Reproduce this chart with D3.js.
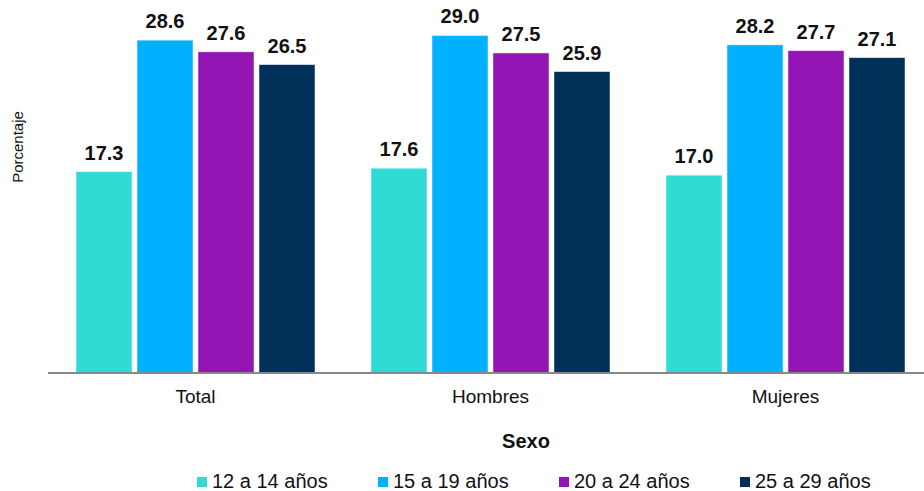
<!DOCTYPE html>
<html>
<head>
<meta charset="utf-8">
<script src="https://cdn.jsdelivr.net/npm/d3@7"></script>
<style>
  body { margin: 0; background: #fff; }
  text { font-family: "Liberation Sans", Arial, sans-serif; fill: #111; }
</style>
</head>
<body>
<script>
// Grouped bars: percentage by sex and age group
let categories = ["Total", "Hombres", "Mujeres"];
let series = ["12 a 14 años", "15 a 19 años", "20 a 24 años", "25 a 29 años"];
let values12a14 = [17.3, 17.6, 17.0];
let values15a19 = [28.6, 29.0, 28.2];
let values20a24 = [27.6, 27.5, 27.7];
let values25a29 = [26.5, 25.9, 27.1];

let colors = d3.scaleOrdinal()
  .domain(series)
  .range(["#2fdbd3", "#00b1ff", "#9316b4", "#003058"]);

let width = 924, height = 491;
let baseY = 373;

let data = categories.map(function(c, i) {
  return {
    cat: c,
    vals: [values12a14[i], values15a19[i], values20a24[i], values25a29[i]]
  };
});

let svg = d3.select("body").append("svg")
  .attr("width", width)
  .attr("height", height);

// scales
let x0 = d3.scaleBand()
  .domain(categories)
  .range([48, 933])
  .padding(0);

let x1 = d3.scaleBand()
  .domain(series)
  .range([28, 267])
  .paddingInner(0.082)
  .paddingOuter(0);

let y = d3.scaleLinear()
  .domain([0, 32.05])
  .range([baseY, 0]);

// bars
let groups = svg.selectAll(".group")
  .data(data)
  .enter().append("g")
  .attr("class", "group")
  .attr("transform", function(d) { return "translate(" + x0(d.cat) + ",0)"; });

let cells = groups.selectAll(".bar")
  .data(function(d) {
    return d.vals.map(function(v, i) { return { key: series[i], value: v }; });
  })
  .enter();

cells.append("rect")
  .attr("class", "bar")
  .attr("x", function(d) { return x1(d.key); })
  .attr("y", function(d) { return y(d.value); })
  .attr("width", x1.bandwidth())
  .attr("height", function(d) { return baseY - y(d.value); })
  .style("fill", function(d) { return colors(d.key); })
  .style("stroke", "rgba(255,255,255,0.6)")
  .style("stroke-width", 0.8);

cells.append("text")
  .attr("x", function(d) { return x1(d.key) + x1.bandwidth() / 2; })
  .attr("y", function(d) { return y(d.value) - 12; })
  .attr("text-anchor", "middle")
  .style("font-size", "20px")
  .style("font-weight", "bold")
  .text(function(d) { return d.value.toFixed(1); });

// x axis
let xAxis = svg.append("g")
  .attr("transform", "translate(0," + baseY + ")")
  .call(d3.axisBottom(x0).tickSize(0).tickPadding(17));

xAxis.select(".domain")
  .attr("d", "M48,0H924")
  .attr("stroke", "#888")
  .attr("stroke-width", 2);

xAxis.selectAll("text")
  .style("font-size", "19px")
  .style("font-family", "'Liberation Sans', Arial, sans-serif")
  .attr("fill", "#111");

// axis titles
svg.append("text")
  .attr("transform", "translate(23,147) rotate(-90)")
  .attr("text-anchor", "middle")
  .style("font-size", "15px")
  .text("Porcentaje");

svg.append("text")
  .attr("x", 526)
  .attr("y", 448)
  .attr("text-anchor", "middle")
  .style("font-size", "20px")
  .style("font-weight", "bold")
  .text("Sexo");

// legend
let legend = svg.selectAll(".legend")
  .data(series)
  .enter().append("g")
  .attr("class", "legend")
  .attr("transform", function(d, i) { return "translate(" + (197 + i * 181) + ",0)"; });

legend.append("rect")
  .attr("x", 0)
  .attr("y", 477)
  .attr("width", 10)
  .attr("height", 10)
  .style("fill", function(d) { return colors(d); });

legend.append("text")
  .attr("x", 15)
  .attr("y", 488)
  .style("font-size", "20px")
  .text(function(d) { return d; });
</script>
</body>
</html>
